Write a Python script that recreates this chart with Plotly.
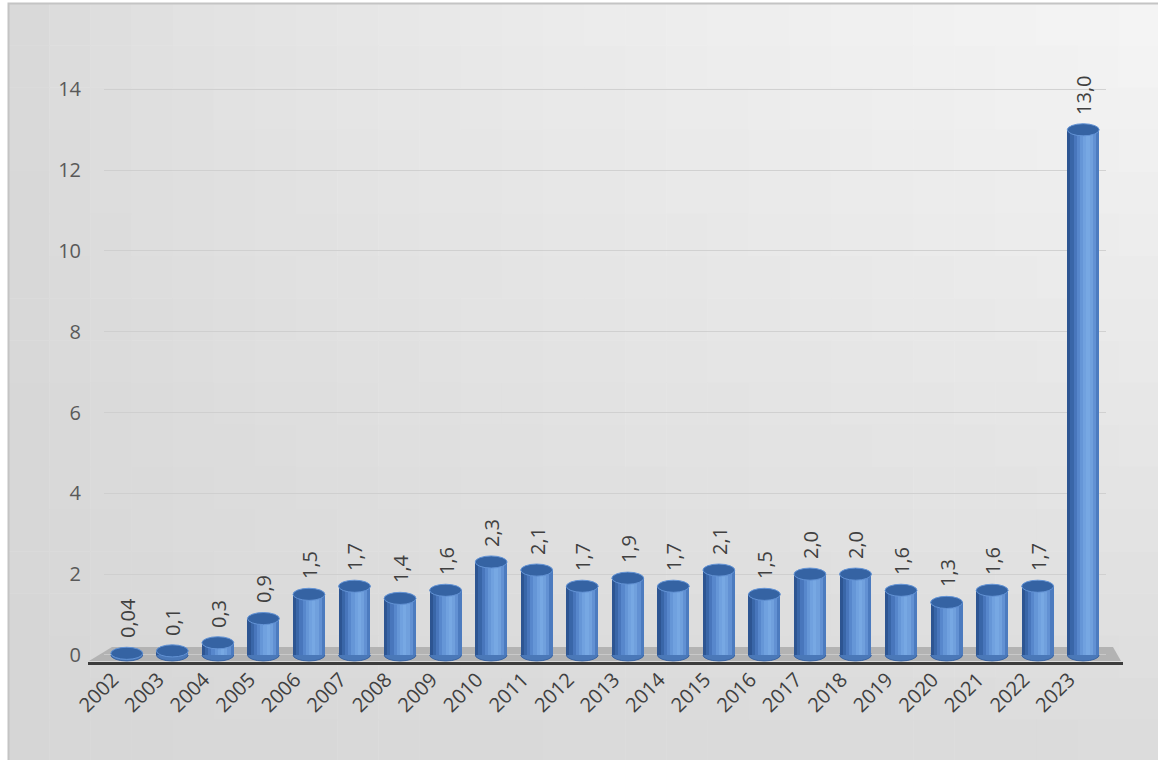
import plotly.graph_objects as go

years = ["2002","2003","2004","2005","2006","2007","2008","2009","2010","2011","2012",
         "2013","2014","2015","2016","2017","2018","2019","2020","2021","2022","2023"]
values = [0.04,0.1,0.3,0.9,1.5,1.7,1.4,1.6,2.3,2.1,1.7,1.9,1.7,2.1,1.5,2.0,2.0,1.6,1.3,1.6,1.7,13.0]
labels = ["0,04","0,1","0,3","0,9","1,5","1,7","1,4","1,6","2,3","2,1","1,7","1,9","1,7","2,1",
          "1,5","2,0","2,0","1,6","1,3","1,6","1,7","13,0"]
yticks = [0,2,4,6,8,10,12,14]

W, H = 1158, 760
L, R, T, B = 104, 52, 49, 97
PW, PH = W - L - R, H - T - B
YMIN, YMAX = -0.2, 15.0

def xp(px):
    return (px - L) / PW

def yp(py):
    return (H - B - py) / PH

FONT = "Open Sans"
fig = go.Figure()

# cylinder body as vertical strips
strip_colors = ['#2d5592','#3966a8','#4876bc','#5787cc','#6596d7','#70a1df',
                '#77a8e3','#70a0dd','#6291d3','#4c7bbf']
BW = 0.70
n = len(strip_colors)
sw = BW / n
for k, c in enumerate(strip_colors):
    fig.add_trace(go.Bar(x=years, y=values, width=sw, offset=-BW/2 + k*sw,
                         marker=dict(color=c, line=dict(width=0)),
                         hoverinfo="skip", showlegend=False))

# invisible bar carrying the value labels
fig.add_trace(go.Bar(x=years, y=[v + 0.3 for v in values], width=BW, offset=-BW/2,
                     marker=dict(color="rgba(0,0,0,0)", line=dict(width=0)),
                     text=labels, textposition="outside", textangle=-90,
                     constraintext="none",
                     textfont=dict(family=FONT, size=20, color="#404040"),
                     cliponaxis=False, hoverinfo="skip", showlegend=False))

shapes = []
# background gradient
cols, rows = 28, 18
x0px, y0px = 8, 3
cw = (W + 2 - x0px) / cols
rh = (H + 2 - y0px) / rows
for i in range(cols):
    for j in range(rows):
        xn = (i + 0.5) / cols
        yn = (j + 0.5) / rows
        b = int(round(213 + 26 * (xn ** 0.5) * (1 - yn) + 6 * (xn ** 0.5)))
        col = f"rgb({b},{b},{b})"
        shapes.append(dict(type="rect", xref="paper", yref="paper", layer="below",
                           x0=xp(x0px + i*cw), x1=xp(x0px + (i+1)*cw + 0.5),
                           y0=yp(y0px + j*rh), y1=yp(y0px + (j+1)*rh + 0.5),
                           fillcolor=col, line=dict(width=0)))
# border
shapes.append(dict(type="rect", xref="paper", yref="paper", layer="below",
                   x0=xp(8.5), x1=xp(W + 5), y0=yp(3.5), y1=yp(H + 5),
                   fillcolor="rgba(0,0,0,0)", line=dict(color="#c4c4c4", width=2)))
# floor
shapes.append(dict(type="path", xref="paper", yref="paper", layer="below",
                   path=f"M {xp(112)} {yp(647)} L {xp(1113)} {yp(647)} L {xp(1121)} {yp(661)} L {xp(89)} {yp(661)} Z",
                   fillcolor="#b3b3b3", line=dict(width=0)))
shapes.append(dict(type="line", xref="paper", yref="paper", layer="below",
                   x0=xp(88), x1=xp(1123), y0=yp(663.5), y1=yp(663.5),
                   line=dict(color="#3c3c3c", width=3)))

# bottom ellipses and top caps
EH = 0.15
for i, v in enumerate(values):
    shapes.append(dict(type="circle", xref="x", yref="y", layer="below",
                       x0=i - BW/2, x1=i + BW/2, y0=-EH, y1=EH,
                       fillcolor="#4a78b8", line=dict(color="#3a64a2", width=1)))
for i, v in enumerate(values):
    shapes.append(dict(type="circle", xref="x", yref="y", layer="above",
                       x0=i - BW/2, x1=i + BW/2, y0=v - EH, y1=v + EH,
                       fillcolor="#3563a3", line=dict(color="#6393d5", width=1)))

fig.update_layout(
    width=W, height=H,
    margin=dict(l=L, r=R, t=T, b=B),
    paper_bgcolor="white", plot_bgcolor="rgba(0,0,0,0)",
    barmode="overlay", bargap=0,
    shapes=shapes,
    showlegend=False,
    font=dict(family=FONT, color="#595959"),
)
fig.update_xaxes(type="category", showgrid=False, showline=False, zeroline=False,
                 tickangle=-45, ticks="", tickfont=dict(family=FONT, size=20, color="#404040"),
                 ticklabelstandoff=0, ticklabelshift=-14, automargin=False)
fig.update_yaxes(range=[YMIN, YMAX], tickvals=yticks, ticktext=[str(t) for t in yticks],
                 showgrid=True, gridcolor="rgba(205,205,205,0.85)", gridwidth=1,
                 zeroline=False, showline=False, ticks="",
                 tickfont=dict(family=FONT, size=20, color="#595959"),
                 ticklabelstandoff=22, automargin=False)

fig.write_html("out.html")
